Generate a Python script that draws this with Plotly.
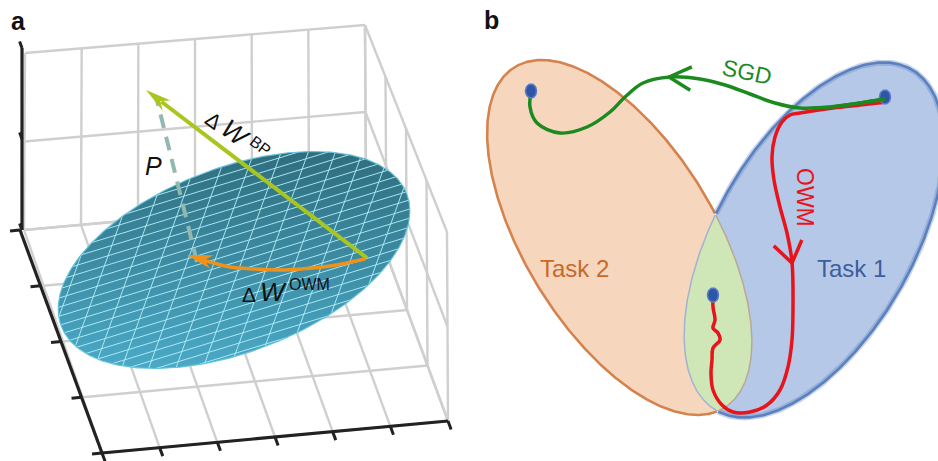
import numpy as np
import plotly.graph_objects as go

FIG_W, FIG_H = 938, 461

# ---------------- panel a : projected 3-D box ----------------
box_back_top = [(25, 53), (365, 25)]        # left, right
box_back_bottom = [(24, 230), (366, 199)]
box_front_bottom = [(102, 453), (448, 421)]
box_front_top_right = (447, 232)
x_tick_count = 7
y_tick_count = 5
z_tick_count = 3
z_axis_ends = [(22, 48), (22, 230)]
y_axis_ends = [(20, 230), (102, 453)]
x_axis_ends = [(102, 453), (448, 421)]

# constraint plane (disk) seen in perspective
disk_center = (234, 260)
disk_axes = (185, 92)
disk_tilt_deg = -21
mesh_long_angle_deg = -17
mesh_cross_dir = (-0.34, 0.94)

# weight updates
dw_bp_start = (367, 258)
dw_bp_tip = (146, 90)
dw_owm_x = [365, 330, 300, 280, 255, 230, 210, 187]
dw_owm_y = [259, 266, 269, 270, 269, 267, 262, 255]
proj_p_x = [197, 157]
proj_p_y = [262, 100]

# ---------------- panel b : task solution spaces ----------------
task2_center, task2_axes, task2_angle = (619.5, 237.5), (200, 95), 58.4
task1_center, task1_axes, task1_angle = (814, 240), (196.5, 99), -60.3
solution_x = [531, 885, 713]
solution_y = [91, 97, 295]
sgd_x = [885, 860, 830, 800, 775, 750, 725, 700, 670, 643, 625, 610, 587, 560, 537, 530, 531]
sgd_y = [99, 103, 107, 108, 103, 94, 85, 79, 77, 83, 97, 112, 127, 133, 123, 107, 92]
owm_x = [887, 860, 833, 800, 790, 782, 775, 772, 774, 780, 787, 792, 793, 792, 788, 780, 767,
         750, 733, 722, 713, 711, 712, 713, 720, 718, 713, 715, 713, 713]
owm_y = [102, 105, 108, 113, 115, 122, 137, 157, 180, 207, 233, 262, 307, 340, 367, 390, 405,
         412, 412, 405, 390, 373, 360, 348, 340, 333, 328, 320, 307, 296]

GRID = "#cfcfcf"
AXIS = "#222222"

fig = go.Figure()


def line(xs, ys, color, width, dash=None, shape="linear"):
    fig.add_trace(go.Scatter(x=list(xs), y=list(ys), mode="lines",
                             line=dict(color=color, width=width, dash=dash, shape=shape),
                             hoverinfo="skip", showlegend=False))


def poly(xs, ys, fillcolor, linecolor="rgba(0,0,0,0)", width=0, **kw):
    fig.add_trace(go.Scatter(x=list(xs), y=list(ys), mode="lines", fill="toself",
                             fillcolor=fillcolor, line=dict(color=linecolor, width=width),
                             hoverinfo="skip", showlegend=False, **kw))


def lerp(p, q, t):
    return (p[0] + (q[0] - p[0]) * t, p[1] + (q[1] - p[1]) * t)


def seg(p, q, color, width):
    line([p[0], q[0]], [p[1], q[1]], color, width)


# ---- box grid ----
btl, btr = box_back_top
bbl, bbr = box_back_bottom
fbl, fbr = box_front_bottom
ftr = box_front_top_right
for s in np.linspace(0, 1, x_tick_count):
    seg(lerp(btl, btr, s), lerp(bbl, bbr, s), GRID, 2.4)          # back wall verticals
    seg(lerp(bbl, bbr, s), lerp(fbl, fbr, s), GRID, 2.4)          # floor, depth lines
for z in np.linspace(0, 1, z_tick_count):
    seg(lerp(btl, bbl, z), lerp(btr, bbr, z), GRID, 2.4)          # back wall horizontals
    seg(lerp(btr, bbr, z), lerp(ftr, fbr, z), GRID, 2.4)          # right wall horizontals
for t in np.linspace(0, 1, y_tick_count):
    seg(lerp(bbl, fbl, t), lerp(bbr, fbr, t), GRID, 2.4)          # floor, width lines
    seg(lerp(btr, ftr, t), lerp(bbr, fbr, t), GRID, 2.4)          # right wall verticals


# ---- black axes with ticks ----
def unit(p, q):
    d = np.array(q, float) - np.array(p, float)
    return d / np.linalg.norm(d)


ux = unit(*x_axis_ends)
uy = unit(*y_axis_ends)
seg(*z_axis_ends, AXIS, 3.2)
seg(*y_axis_ends, AXIS, 3.2)
seg(*x_axis_ends, AXIS, 3.2)
for z in np.linspace(0, 1, z_tick_count):
    p = lerp(*z_axis_ends, z)
    seg(p, (p[0] - 7 * uy[0], p[1] - 7 * uy[1]), AXIS, 3)
for t in np.linspace(0, 1, y_tick_count):
    p = lerp(*y_axis_ends, t)
    seg(p, (p[0] - 10 * ux[0], p[1] - 10 * ux[1]), AXIS, 3)
for s in np.linspace(0, 1, x_tick_count):
    p = lerp(*x_axis_ends, s)
    seg(p, (p[0] + 9 * uy[0], p[1] + 9 * uy[1]), AXIS, 3)


# ---- disk ----
def ellipse_frame(center, axes, angle_deg):
    th = np.radians(angle_deg)
    u = np.array([np.cos(th), np.sin(th)])
    v = np.array([-u[1], u[0]])
    return np.array(center, float), u, v


def ellipse_pts(center, axes, angle_deg, n=360):
    c, u, v = ellipse_frame(center, axes, angle_deg)
    t = np.linspace(0, 2 * np.pi, n, endpoint=False)
    return c + np.outer(axes[0] * np.cos(t), u) + np.outer(axes[1] * np.sin(t), v)


def inside(pts, center, axes, angle_deg):
    c, u, v = ellipse_frame(center, axes, angle_deg)
    d = pts - c
    return (d @ u / axes[0]) ** 2 + (d @ v / axes[1]) ** 2 < 1


dpts = ellipse_pts(disk_center, disk_axes, disk_tilt_deg)
dx = np.append(dpts[:, 0], dpts[0, 0])
dy = np.append(dpts[:, 1], dpts[0, 1])
poly(dx, dy, "#3b8599",
     fillgradient=dict(type="vertical", colorscale=[[0, "#2f6d7e"], [1, "#4aa9c6"]],
                       start=150, stop=368))

c, u, v = ellipse_frame(disk_center, disk_axes, disk_tilt_deg)
M = np.column_stack([disk_axes[0] * u, disk_axes[1] * v])
Minv = np.linalg.inv(M)


def chord(p0, d):
    q0 = Minv @ (p0 - c)
    w = Minv @ d
    A, B, C = w @ w, 2 * q0 @ w, q0 @ q0 - 1
    disc = B * B - 4 * A * C
    if disc <= 0:
        return None
    r = np.sqrt(disc)
    s1, s2 = (-B - r) / (2 * A), (-B + r) / (2 * A)
    return p0 + s1 * d, p0 + s2 * d


MESH = "rgba(180,240,250,0.9)"
th = np.radians(mesh_long_angle_deg)
d1 = np.array([np.cos(th), np.sin(th)])
n1 = np.array([-d1[1], d1[0]])
d2 = np.array(mesh_cross_dir, float)
d2 /= np.linalg.norm(d2)
n2 = np.array([d2[1], -d2[0]])
mx, my = [], []
for k in range(-40, 41):
    for d, n, sp in ((d1, n1, 8.7), (d2, n2, 25.5)):
        ch = chord(c + (k + 0.3) * sp * n, d)
        if ch is not None:
            mx += [ch[0][0], ch[1][0], None]
            my += [ch[0][1], ch[1][1], None]
fig.add_trace(go.Scatter(x=mx, y=my, mode="lines", line=dict(color=MESH, width=1),
                         hoverinfo="skip", showlegend=False))
line(dx, dy, "rgba(95,195,220,0.9)", 1.2)

# ---- projection P (dashed) ----
line(proj_p_x, proj_p_y, "#93b8b0", 4, dash="14px,9px")


# ---- arrows ----
def arrow_head(tip, back_dir, length, half_w, notch, color):
    b = np.array(back_dir, float)
    b /= np.linalg.norm(b)
    n = np.array([-b[1], b[0]])
    t = np.array(tip, float)
    base = t + b * length
    p1 = base + n * half_w
    p2 = t + b * (length - notch)
    p3 = base - n * half_w
    poly([t[0], p1[0], p2[0], p3[0], t[0]], [t[1], p1[1], p2[1], p3[1], t[1]], color)


BP = "#a9c51f"
seg(dw_bp_start, lerp(dw_bp_start, dw_bp_tip, 0.93), BP, 4)
arrow_head(dw_bp_tip, np.subtract(dw_bp_start, dw_bp_tip), 26, 6.5, 8, BP)

OWM_C = "#f0911a"
line(dw_owm_x[:-1] + [dw_owm_x[-1] + 8], dw_owm_y[:-1] + [dw_owm_y[-1] + 3], OWM_C, 3.5, shape="spline")
arrow_head((dw_owm_x[-1], dw_owm_y[-1]), (dw_owm_x[-3] - dw_owm_x[-1], dw_owm_y[-3] - dw_owm_y[-1]),
           26, 7, 8, OWM_C)


# ---------------- panel b ----------------
def arc_inside(pts, mask):
    n = len(pts)
    starts = [i for i in range(n) if mask[i] and not mask[i - 1]]
    i0 = starts[0]
    rolled = np.roll(pts, -i0, axis=0)
    m = np.roll(mask, -i0)
    k = int(np.argmin(m)) if not m.all() else n
    return rolled[:k]


def arc_outside(pts, mask):
    return arc_inside(pts, ~mask)


o_pts = ellipse_pts(task2_center, task2_axes, task2_angle, 720)
b_pts = ellipse_pts(task1_center, task1_axes, task1_angle, 720)
o_in_b = inside(o_pts, task1_center, task1_axes, task1_angle)
b_in_o = inside(b_pts, task2_center, task2_axes, task2_angle)


def closed(p):
    return np.append(p[:, 0], p[0, 0]), np.append(p[:, 1], p[0, 1])


ox, oy = closed(o_pts)
bx, by = closed(b_pts)
poly(ox, oy, "#f7d6be")
poly(bx, by, "#b5c8e7")
lens = np.vstack([arc_inside(o_pts, o_in_b), arc_inside(b_pts, b_in_o)])
lx, ly = closed(lens)
poly(lx, ly, "#cfe6b6")

oa = arc_outside(o_pts, o_in_b)
ba = arc_outside(b_pts, b_in_o)
line(oa[:, 0], oa[:, 1], "#d4834d", 2.6)
line(ba[:, 0], ba[:, 1], "rgba(92,128,192,0.35)", 6)
line(ba[:, 0], ba[:, 1], "#5b80c0", 2.6)
li = arc_inside(o_pts, o_in_b)
line(li[:, 0], li[:, 1], "#b9a894", 1.5)
lb = arc_inside(b_pts, b_in_o)
line(lb[:, 0], lb[:, 1], "#a3b2d2", 1.5)

# trajectories
SGD_C = "#1b8a1f"
RED = "#e8141c"
line(owm_x, owm_y, RED, 3.5, shape="spline")
line(sgd_x, sgd_y, SGD_C, 3.5, shape="spline")


def chevron(tip, back_dir, length, half_angle_deg, color):
    b = np.array(back_dir, float)
    b /= np.linalg.norm(b)
    a = np.radians(half_angle_deg)
    ends = []
    for sgn in (1, -1):
        r = np.array([b[0] * np.cos(a) - sgn * b[1] * np.sin(a),
                      sgn * b[0] * np.sin(a) + b[1] * np.cos(a)])
        ends.append(np.array(tip) + length * r)
    line([ends[0][0], tip[0], ends[1][0]], [ends[0][1], tip[1], ends[1][1]], color, 3.5)


chevron((669, 77), (1, 0.07), 25, 28, SGD_C)
chevron((792, 263), (-0.204, -0.979), 25, 35, RED)

# solution points
for sx, sy in zip(solution_x, solution_y):
    t = np.linspace(0, 2 * np.pi, 40)
    poly(sx + 5.5 * np.cos(t), sy + 7 * np.sin(t), "#2f56a6", "#5a7bc8", 1.5)
line(sgd_x[:3], sgd_y[:3], SGD_C, 3.5, shape="spline")

# ---------------- text ----------------
FONT = "Liberation Sans, Arial, sans-serif"


def label(x, y, text, size, color="#111111", angle=0):
    fig.add_annotation(x=x, y=y, text=text, showarrow=False, textangle=angle,
                       font=dict(family=FONT, size=size, color=color),
                       xanchor="center", yanchor="middle")


label(18, 21, "<b>a</b>", 25)
label(491, 20, "<b>b</b>", 25)
label(153, 166, "<i>P</i>", 25)
# ΔW^BP along the back-propagation arrow
label(214, 120, "Δ", 21, angle=37)
label(235, 133, "<i>W</i>", 26, angle=37)
label(260, 145, "BP", 16, angle=37)
# ΔW^OWM under the projected arrow
label(249, 294, "Δ", 21)
label(273, 292, "<i>W</i>", 26)
label(309, 284, "OWM", 16)
label(747, 72, "SGD", 23, SGD_C, angle=12)
label(805, 197, "OWM", 23, RED, angle=90)
label(574, 268, "Task 2", 24, "#c66a2c")
label(851, 268, "Task 1", 24, "#3e5d9c")

fig.update_layout(
    width=FIG_W, height=FIG_H,
    margin=dict(l=0, r=0, t=0, b=0),
    paper_bgcolor="white", plot_bgcolor="white",
    xaxis=dict(range=[0, FIG_W], visible=False, fixedrange=True),
    yaxis=dict(range=[FIG_H, 0], visible=False, fixedrange=True),
    showlegend=False,
)
fig.write_html("out.html", config={"displayModeBar": False})
